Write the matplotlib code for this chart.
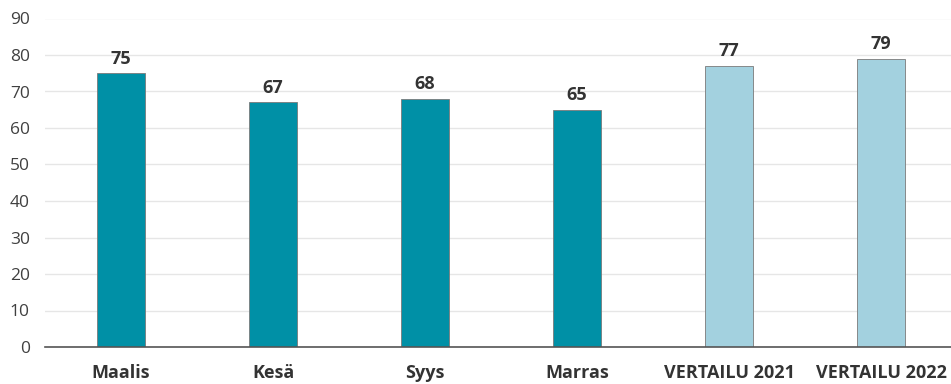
import matplotlib
matplotlib.use("Agg")
import matplotlib.pyplot as plt

categories = ["Maalis", "Kesä", "Syys", "Marras", "VERTAILU 2021", "VERTAILU 2022"]
values = [75, 67, 68, 65, 77, 79]
kinds = ["current", "current", "current", "current", "reference", "reference"]
yticks = [0, 10, 20, 30, 40, 50, 60, 70, 80, 90]

palette = {"current": "#0090a6", "reference": "#a3d1df"}

plt.rcParams["font.family"] = ["Open Sans", "DejaVu Sans"]

fig = plt.figure(figsize=(9.51, 3.84), dpi=100)
ax = fig.add_axes([45 / 951, 37 / 384, 912 / 951, 328.5 / 384])

x = list(range(len(categories)))
bars = ax.bar(x, values, width=0.316,
              color=[palette[k] for k in kinds],
              edgecolor="#7a7a7a", linewidth=0.6, zorder=3)

for xi, v in zip(x, values):
    ax.annotate(str(v), (xi, v), xytext=(0, 4), textcoords="offset points",
                ha="center", va="bottom", fontsize=13, fontweight="bold",
                color="#333333")

ax.set_xlim(-0.5, 5.5)
ax.set_ylim(0, 90)
ax.set_yticks(yticks)
ax.set_xticks(x)
ax.set_xticklabels(categories, fontsize=13, fontweight="bold", color="#333333")
ax.tick_params(axis="x", length=0, pad=12)
ax.tick_params(axis="y", length=0, pad=11, labelsize=12.5, labelcolor="#404040")

ax.grid(axis="y", color="#e6e6e6", linewidth=1, zorder=0)
for side in ["top", "right", "left"]:
    ax.spines[side].set_visible(False)
ax.spines["bottom"].set_color("#555555")
ax.spines["bottom"].set_linewidth(1.2)
ax.spines["bottom"].set_zorder(4)

fig.savefig("out.png", dpi=100)
